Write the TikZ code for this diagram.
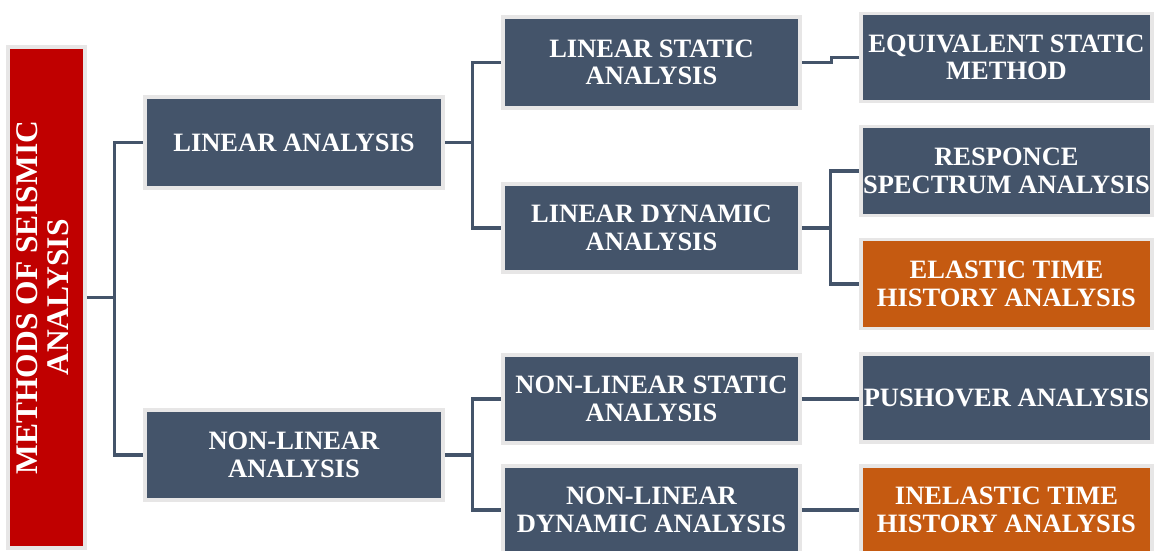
\documentclass[tikz,border=0pt]{standalone}
\usepackage{fontspec}
\setmainfont{Liberation Serif}
\begin{document}
\begin{tikzpicture}[thick,
  kasten/.style={draw=rahmen,line width=3.5pt,fill=schiefer,text=white,
    align=center,inner sep=0pt,font=\bfseries\fontsize{26.5}{27.5}\selectfont},
  linie/.style={draw=schiefer,line width=3.2pt}]
\definecolor{schiefer}{HTML}{44546A}
\definecolor{rahmen}{HTML}{E7E6E6}
\definecolor{orange}{HTML}{C55A11}
\definecolor{dunkelrot}{HTML}{C00000}
\def\h{1pt}
\def\punkt#1#2{({(#1)*\h},{-(#2)*\h})}
\useasboundingbox \punkt{0}{0} rectangle \punkt{1154}{550};

\node[kasten,fill=dunkelrot,minimum width=77pt,minimum height=501pt] (methods) at \punkt{46.5}{297.5}
  {\rotatebox{90}{\fontsize{31.5}{31}\selectfont\begin{tabular}{@{}c@{}}METHODS OF SEISMIC\\ANALYSIS\end{tabular}}};

\node[kasten,minimum width=298pt,minimum height=91pt] (lin) at \punkt{294}{142.5} {LINEAR ANALYSIS};
\node[kasten,minimum width=298pt,minimum height=90pt] (nonlin) at \punkt{294}{455} {NON-LINEAR\\ANALYSIS};

\node[kasten,minimum width=297pt,minimum height=91pt] (ls) at \punkt{651.5}{62.5} {LINEAR STATIC\\ANALYSIS};
\node[kasten,minimum width=297pt,minimum height=88pt] (ld) at \punkt{651.5}{228} {LINEAR DYNAMIC\\ANALYSIS};
\node[kasten,minimum width=297pt,minimum height=88pt] (nls) at \punkt{651.5}{399} {NON-LINEAR STATIC\\ANALYSIS};
\node[kasten,minimum width=297pt,minimum height=88pt] (nld) at \punkt{651.5}{510} {NON-LINEAR\\DYNAMIC ANALYSIS};

\node[kasten,minimum width=291pt,minimum height=88pt] (eq) at \punkt{1006.5}{57.5} {EQUIVALENT STATIC\\METHOD};
\node[kasten,minimum width=291pt,minimum height=89pt] (rs) at \punkt{1006.5}{171} {RESPONCE\\SPECTRUM ANALYSIS};
\node[kasten,fill=orange,minimum width=291pt,minimum height=89pt] (eth) at \punkt{1006.5}{284} {ELASTIC TIME\\HISTORY ANALYSIS};
\node[kasten,minimum width=291pt,minimum height=88pt] (push) at \punkt{1006.5}{398} {PUSHOVER ANALYSIS};
\node[kasten,fill=orange,minimum width=291pt,minimum height=88pt] (ineth) at \punkt{1006.5}{510} {INELASTIC TIME\\HISTORY ANALYSIS};

% erste Ebene
\draw[linie] (methods.east) -- ++(28pt,0) coordinate (k0);
\draw[linie] (k0) |- (lin.west);
\draw[linie] (k0) |- (nonlin.west);

% zweite Ebene
\draw[linie] (lin.east) -- ++(28pt,0) coordinate (k1);
\draw[linie] (k1) |- (ls.west);
\draw[linie] (k1) |- (ld.west);
\draw[linie] (nonlin.east) -- ++(28pt,0) coordinate (k2);
\draw[linie] (k2) |- (nls.west);
\draw[linie] (k2) |- (nld.west);

% dritte Ebene
\draw[linie] (ls.east) -- ++(30pt,0) |- (eq.west);
\draw[linie] (ld.east) -- ++(29pt,0) coordinate (k3);
\draw[linie] (k3) |- (rs.west);
\draw[linie] (k3) |- (eth.west);
\draw[linie] (nls.east) -- (nls.east -| push.west);
\draw[linie] (nld.east) -- (ineth.west);

\end{tikzpicture}
\end{document}
